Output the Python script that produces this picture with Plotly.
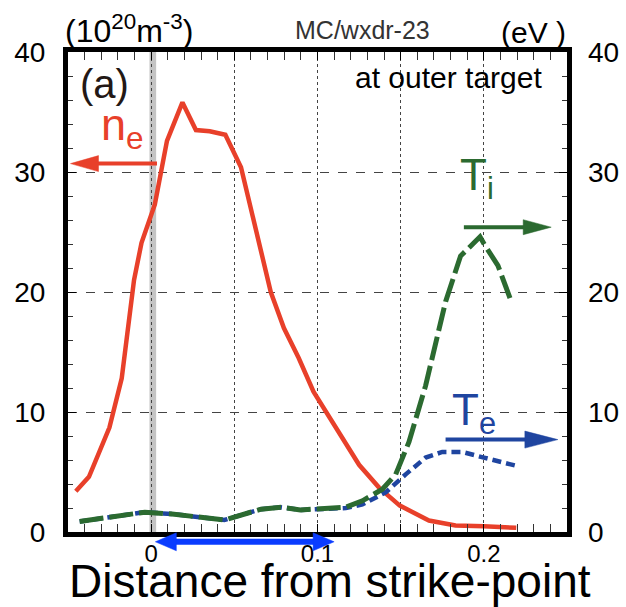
import plotly.graph_objects as go

# ---------------- data ----------------
ne_x = [-0.0453, -0.0374, -0.0251, -0.0177, -0.0103, -0.0058, 0.0022, 0.0095,
        0.0188, 0.0269, 0.0352, 0.0446, 0.054, 0.0719, 0.0798, 0.0887, 0.0976,
        0.1115, 0.125, 0.137, 0.1495, 0.167, 0.183, 0.2, 0.2195]
ne_y = [3.4, 4.6, 8.7, 12.8, 21.0, 24.1, 27.3, 32.6,
        35.8, 33.5, 33.4, 33.1, 30.4, 20.0, 17.0, 14.5, 11.7,
        8.6, 5.6, 3.7, 2.2, 0.96, 0.55, 0.47, 0.35]

ti_x = [-0.043, -0.0172, -0.0038, 0.0125, 0.044, 0.066, 0.078, 0.0897, 0.1056,
        0.117, 0.127, 0.139, 0.147, 0.155, 0.165, 0.1738, 0.177, 0.186, 0.1977,
        0.2006, 0.2085, 0.216]
ti_y = [0.88, 1.37, 1.65, 1.5, 1.0, 1.9, 2.06, 1.84, 1.92,
        2.06, 2.6, 3.56, 4.8, 7.5, 12.2, 17.3, 19.2, 23.0, 24.6,
        23.9, 22.2, 19.4]

te_x = [-0.043, -0.0172, -0.0038, 0.0125, 0.044, 0.066, 0.078, 0.0897, 0.1056,
        0.117, 0.127, 0.141, 0.153, 0.165, 0.175, 0.187, 0.2, 0.22]
te_y = [0.88, 1.37, 1.65, 1.5, 1.0, 1.9, 2.06, 1.84, 1.92,
        2.0, 2.3, 3.3, 4.8, 6.2, 6.67, 6.67, 6.2, 5.5]

x_tick_vals = [-0.05, 0.0, 0.05, 0.1, 0.15, 0.2, 0.25]
x_tick_text = ["", "0", "", "0.1", "", "0.2", ""]
y_tick_vals = [0, 10, 20, 30, 40]
y_tick_text = ["0", "10", "20", "30", "40"]

RED = "#e8402a"
GREEN = "#2b6a30"
BLUE = "#1f45a0"
BRIGHT_BLUE = "#0a3cff"
FONT = "Liberation Sans, Arial, Helvetica, sans-serif"

fig = go.Figure()
fig.add_trace(go.Scatter(x=te_x, y=te_y, yaxis="y2", mode="lines",
                         line=dict(color=BLUE, width=4.5, dash="9px,5px")))
fig.add_trace(go.Scatter(x=ti_x, y=ti_y, yaxis="y2", mode="lines",
                         line=dict(color=GREEN, width=5, dash="24px,6px")))
fig.add_trace(go.Scatter(x=ne_x, y=ne_y, mode="lines",
                         line=dict(color=RED, width=4.5)))

# strike point band
fig.add_vrect(x0=-0.001, x1=0.003, fillcolor="#c4c4c4", line_width=0, layer="below")

# arrows: (tail_x, tip_x, y, color, width, head_len, head_half)
arrows = [
    (0.0035, -0.0485, 30.7, RED, 4, 28, 8),
    (0.188, 0.2405, 25.4, GREEN, 4, 28, 7.5),
    (0.177, 0.2445, 7.7, BLUE, 4, 33, 8.5),
]
shapes = []
for tail, tip, yv, col, w, hl, hh in arrows:
    d = 1 if tip > tail else -1
    shapes.append(dict(type="line", xref="x", yref="y", x0=tail, x1=tip - d * 0.008,
                       y0=yv, y1=yv, line=dict(color=col, width=w)))
    shapes.append(dict(type="path", xref="x", yref="y", xsizemode="pixel", ysizemode="pixel",
                       xanchor=tip, yanchor=yv,
                       path=f"M0,0 L{-d*hl},{hh} L{-d*hl},{-hh} Z",
                       fillcolor=col, line=dict(color=col, width=0.5)))
# double arrow under the axis (x in data units, y in paper units)
da_x0, da_x1, da_y = 0.0025, 0.110, -0.0204
shapes.append(dict(type="line", xref="x", yref="paper", x0=da_x0 + 0.008, x1=da_x1 - 0.008,
                   y0=da_y, y1=da_y, line=dict(color=BRIGHT_BLUE, width=6)))
for tip, d in ((da_x0, -1), (da_x1, 1)):
    shapes.append(dict(type="path", xref="x", yref="paper", xsizemode="pixel", ysizemode="pixel",
                       xanchor=tip, yanchor=da_y,
                       path=f"M0,0 L{-d*21},9 L{-d*21},-9 Z",
                       fillcolor=BRIGHT_BLUE, line=dict(color=BRIGHT_BLUE, width=0.5)))
for s in shapes:
    fig.add_shape(**s)

annotations = [
    dict(text="(10<sup>20</sup>m<sup>-3</sup>)", xref="paper", yref="paper", x=-0.011, y=1.003,
         xanchor="left", yanchor="bottom", font=dict(size=32, color="black")),
    dict(text="MC/wxdr-23", xref="paper", yref="paper", x=0.59, y=1.012,
         xanchor="center", yanchor="bottom", font=dict(size=25, color="#333")),
    dict(text="(eV )", xref="paper", yref="paper", x=1.002, y=1.003,
         xanchor="right", yanchor="bottom", font=dict(size=30, color="black")),
    dict(text="(a)", xref="x", yref="y", x=-0.028, y=37.3, font=dict(size=40, color="#231815")),
    dict(text="at outer target", xref="x", yref="y", x=0.179, y=37.9,
         font=dict(size=30, color="black")),
    dict(text="n<sub>e</sub>", xref="x", yref="y", x=-0.017, y=33.7,
         font=dict(size=45, color=RED)),
    dict(text="T<sub>i</sub>", xref="x", yref="y", x=0.196, y=29.5,
         font=dict(size=44, color=GREEN)),
    dict(text="T<sub>e</sub>", xref="x", yref="y", x=0.194, y=9.9,
         font=dict(size=44, color=BLUE)),
    dict(text="Distance from strike-point", xref="paper", yref="paper", x=0.525, y=-0.103,
         xanchor="center", yanchor="middle", font=dict(size=46, color="black")),
]
for a in annotations:
    a["showarrow"] = False
    fig.add_annotation(**a)

fig.update_layout(
    width=626, height=607,
    margin=dict(l=67.5, r=58.5, t=51.5, b=74.5),
    plot_bgcolor="white", paper_bgcolor="white",
    showlegend=False,
    font=dict(family=FONT, color="black"),
    xaxis=dict(range=[-0.05, 0.25], tickmode="array", tickvals=x_tick_vals, ticktext=x_tick_text,
               ticks="inside", ticklen=8, tickwidth=1.2, tickcolor="black", automargin=False,
               showline=True, linewidth=5, linecolor="black", mirror="allticks",
               showgrid=True, gridcolor="#444", griddash="dot", gridwidth=1,
               zeroline=False, tickfont=dict(size=24), ticklabelstandoff=-4,
               minor=dict(dtick=0.01, tick0=0, ticks="inside", ticklen=5, tickcolor="#333",
                          tickwidth=1, showgrid=False)),
    yaxis=dict(range=[0, 40], tickmode="array", tickvals=y_tick_vals, ticktext=y_tick_text,
               ticks="inside", ticklen=8, tickwidth=1.2, tickcolor="black", automargin=False,
               showline=True, linewidth=5, linecolor="black", mirror=True,
               showgrid=True, gridcolor="#444", griddash="dash", gridwidth=1,
               zeroline=False, tickfont=dict(size=28), ticklabelstandoff=12,
               minor=dict(dtick=2, tick0=0, ticks="inside", ticklen=5, tickcolor="#333",
                          tickwidth=1, showgrid=False)),
    yaxis2=dict(range=[0, 40], overlaying="y", side="right", tickmode="array",
                tickvals=y_tick_vals, ticktext=y_tick_text, automargin=False,
                ticks="inside", ticklen=8, tickwidth=1.2, tickcolor="black",
                showline=False, showgrid=False, zeroline=False,
                tickfont=dict(size=28), ticklabelstandoff=20,
                minor=dict(dtick=2, tick0=0, ticks="inside", ticklen=5, tickcolor="#333",
                           tickwidth=1, showgrid=False)),
)

fig.write_html("out.html", config={"displayModeBar": False},
               post_script="document.body.style.margin='0';")
